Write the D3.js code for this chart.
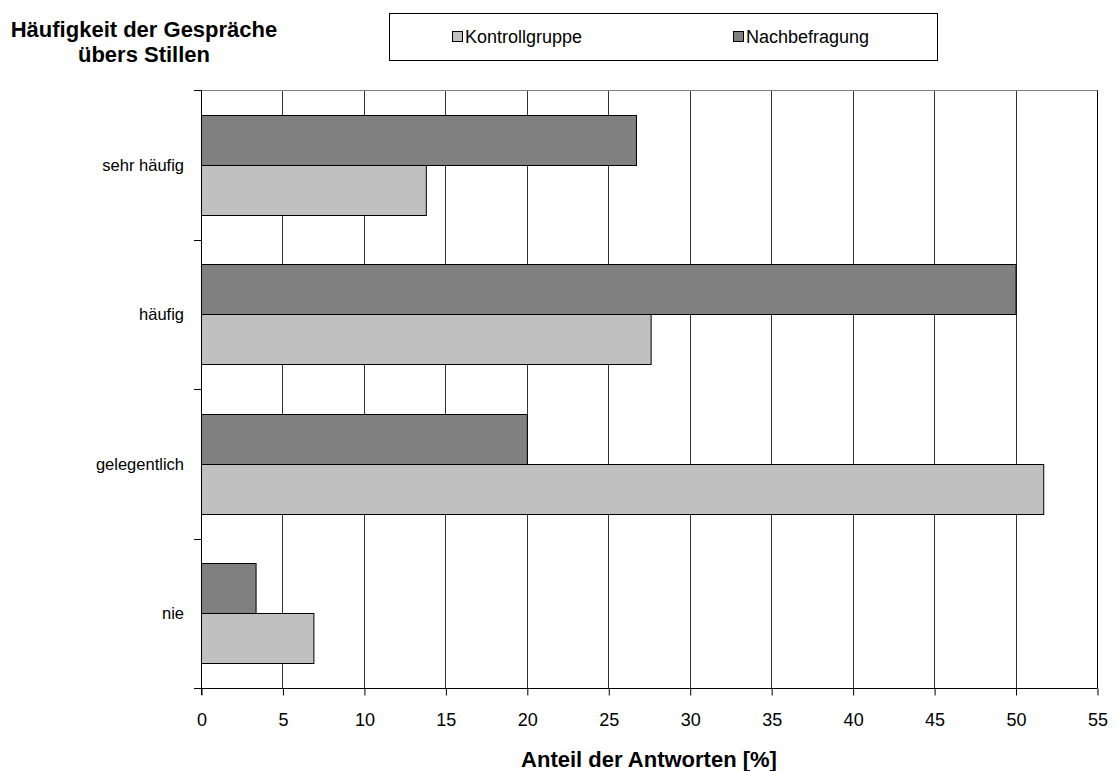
<!DOCTYPE html>
<html><head><meta charset="utf-8">
<script src="https://cdn.jsdelivr.net/npm/d3@7"></script>
<style>body{margin:0;background:#fff;}svg{display:block;font-family:"Liberation Sans",Arial,sans-serif;}</style>
</head><body><svg id="c" width="1118" height="771"></svg>
<script>
const categories = ["sehr häufig", "häufig", "gelegentlich", "nie"];
const seriesNames = ["Nachbefragung", "Kontrollgruppe"];
const nachbefragung = [26.7, 50, 20, 3.35];
const kontrollgruppe = [13.8, 27.6, 51.7, 6.9];
const xTicks = [0,5,10,15,20,25,30,35,40,45,50,55];
const colors = {"Kontrollgruppe":"#c0c0c0","Nachbefragung":"#808080"};

const svg = d3.select("#c");
const L=201, R=1097, T=90, B=688;
const x = d3.scaleLinear().domain([0,55]).range([L,R]);
const y = d3.scaleBand().domain(categories).range([T,B]).paddingInner(0.33).paddingOuter(0.165);
const ySub = d3.scaleBand().domain(seriesNames).range([0,y.bandwidth()]);
const yBand = d3.scaleBand().domain(categories).range([T,B]);

// gridlines
svg.append("g").selectAll("line").data(xTicks.slice(1)).join("line")
  .attr("x1",d=>Math.round(x(d))+0.5).attr("x2",d=>Math.round(x(d))+0.5)
  .attr("y1",T).attr("y2",B).attr("stroke",(d)=>d===55?"#000":"#333").attr("stroke-width",1);
// top border
svg.append("line").attr("x1",194).attr("x2",R+0.5).attr("y1",T+0.5).attr("y2",T+0.5).attr("stroke","#808080");

// bars
const data = [];
categories.forEach((c,i)=>{
  data.push({c, s:"Nachbefragung", v:nachbefragung[i]});
  data.push({c, s:"Kontrollgruppe", v:kontrollgruppe[i]});
});
svg.append("g").selectAll("rect").data(data).join("rect")
  .attr("x",x(0)+0.5).attr("y",d=>Math.round(y(d.c)+ySub(d.s))+0.5)
  .attr("width",d=>x(d.v)-x(0)).attr("height",Math.round(ySub.bandwidth()))
  .attr("fill",d=>colors[d.s]).attr("stroke","#000").attr("stroke-width",1);

// y axis
const yTickPos = [T].concat(categories.map(c=>yBand(c)+yBand.bandwidth()));
svg.append("line").attr("x1",L+0.5).attr("x2",L+0.5).attr("y1",T).attr("y2",B+7).attr("stroke","#000");
svg.append("g").selectAll("line").data(yTickPos).join("line")
  .attr("x1",194).attr("x2",L).attr("y1",d=>Math.round(d)+0.5).attr("y2",d=>Math.round(d)+0.5).attr("stroke","#000");
svg.append("g").selectAll("text").data(categories).join("text")
  .attr("x",184).attr("y",c=>yBand(c)+yBand.bandwidth()/2+6)
  .attr("text-anchor","end").attr("font-size",16.5).attr("fill","#000").text(c=>c);

// x axis
const xAxis = d3.axisBottom(x).tickValues(xTicks).tickSize(7).tickPadding(18).tickSizeOuter(0);
const gx = svg.append("g").attr("transform",`translate(0.5,${B+0.5})`).call(xAxis);
gx.select(".domain").remove();
gx.append("line").attr("x1",194-0.5).attr("x2",R).attr("y1",0).attr("y2",0).attr("stroke","#000");
gx.selectAll(".tick line").attr("stroke","#000");
gx.selectAll(".tick text").attr("font-size",18).attr("fill","#000").attr("font-family","Liberation Sans, Arial, sans-serif");

svg.append("text").attr("x",649).attr("y",767).attr("text-anchor","middle")
  .attr("font-size",22).attr("font-weight","bold").text("Anteil der Antworten [%]");

// title
const title = svg.append("text").attr("text-anchor","middle").attr("font-size",22).attr("font-weight","bold");
title.append("tspan").attr("x",144).attr("y",37).text("Häufigkeit der Gespräche");
title.append("tspan").attr("x",144).attr("y",62).text("übers Stillen");

// legend
svg.append("rect").attr("x",389.5).attr("y",13.5).attr("width",548).attr("height",47).attr("fill","#fff").attr("stroke","#000");
const legendItems = [{s:"Kontrollgruppe",x:452},{s:"Nachbefragung",x:733}];
const lg = svg.append("g").selectAll("g").data(legendItems).join("g");
lg.append("rect").attr("x",d=>d.x+0.5).attr("y",31.5).attr("width",10).attr("height",10)
  .attr("fill",d=>colors[d.s]).attr("stroke","#000");
lg.append("text").attr("x",d=>d.x+13).attr("y",43).attr("font-size",18).text(d=>d.s);
</script></body></html>
